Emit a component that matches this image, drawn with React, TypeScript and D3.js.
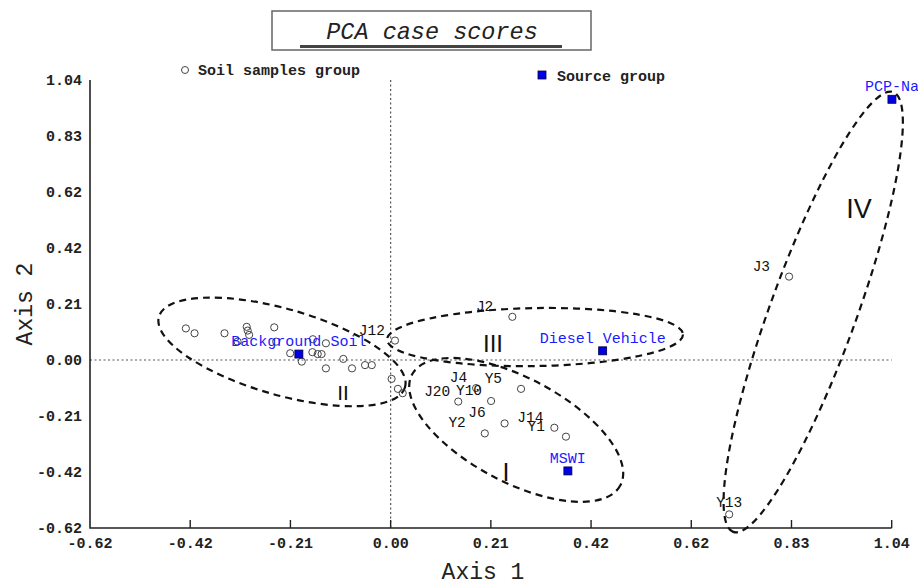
import * as d3 from 'd3';
import React, { useRef, useEffect } from 'react';

// unlabeled soil sample scores (Axis 1, Axis 2)
const soilX = [-0.424, -0.406, -0.344, -0.298, -0.296, -0.293, -0.241, -0.317, -0.237, -0.161, -0.208, -0.184, -0.162, -0.151, -0.143, -0.134, -0.098, -0.134, -0.080, -0.053, -0.039, 0.002, 0.015, 0.025]
const soilY = [0.117, 0.099, 0.099, 0.123, 0.109, 0.093, 0.121, 0.068, 0.068, 0.077, 0.025, -0.006, 0.029, 0.022, 0.022, 0.062, 0.004, -0.031, -0.031, -0.019, -0.019, -0.070, -0.107, -0.123]

// labeled soil samples
const sampleNames = ['J12', 'J2', 'J4', 'J20', 'Y10', 'Y5', 'J6', 'Y2', 'J14', 'Y1', 'J3', 'Y13']
const sampleX = [0.009, 0.252, 0.177, 0.140, 0.208, 0.270, 0.236, 0.195, 0.339, 0.363, 0.825, 0.701]
const sampleY = [0.072, 0.160, -0.104, -0.154, -0.152, -0.107, -0.235, -0.272, -0.251, -0.284, 0.309, -0.572]

// source group
const sourceNames = ['Background Soil', 'Diesel Vehicle', 'MSWI', 'PCP-Na']
const sourceX = [-0.190, 0.439, 0.367, 1.038]
const sourceY = [0.022, 0.034, -0.411, 0.966]

// group ellipses (centre in scores)
const groupNames = ['II', 'III', 'I', 'IV']
const groupCx = [-0.225, 0.299, 0.260, 0.875]
const groupCy = [0.030, 0.085, -0.259, 0.178]

const tickLabels = ['-0.62', '-0.42', '-0.21', '0.00', '0.21', '0.42', '0.62', '0.83', '1.04']
const tickValues = tickLabels.map((_, i) => -0.6225 + i * 0.2075)

// drawing styles
const ellipseShape = { II: [128, 43, 16], III: [148, 29, -1], I: [118, 52, 28], IV: [234, 43, 110] }
const romanPos = { II: [343, 400, 21], III: [493, 352, 24], I: [506, 481, 25], IV: [859, 218, 27] }
const labelOff = {
    J12: [-10, -6], J2: [-19, -6], J4: [-9, -6], J20: [-8, -6], Y10: [-9, -6], Y5: [-19, -6],
    J6: [-19, -6], Y2: [-19, -6], J14: [-11, -6], Y1: [-21, -6], J3: [-19, -6], Y13: [0, -7]
}

const MONO = "'Liberation Mono', 'DejaVu Sans Mono', monospace"

export default function App() {
    const ref = useRef(null)

    useEffect(() => {
        d3.select(ref.current).selectAll('svg').remove()

        const svg = d3.select(ref.current)
            .append('svg')
            .attr('width', 918)
            .attr('height', 585)
            .style('background', '#fff')

        const x = d3.scaleLinear().domain([-0.6225, 1.0375]).range([90, 891.7])
        const y = d3.scaleLinear().domain([-0.6225, 1.0375]).range([528, 80])

        // zero lines
        svg.append('line')
            .attr('x1', x(-0.6225)).attr('x2', x(1.0375))
            .attr('y1', y(0)).attr('y2', y(0))
            .attr('stroke', '#555').attr('stroke-width', 1.2)
            .attr('stroke-dasharray', '2,2.5')
        svg.append('line')
            .attr('x1', x(0)).attr('x2', x(0))
            .attr('y1', y(1.0375)).attr('y2', y(-0.6225))
            .attr('stroke', '#555').attr('stroke-width', 1.2)
            .attr('stroke-dasharray', '2,2.5')

        // axes
        svg.append('path')
            .attr('d', `M${x(-0.6225)},${y(1.0375)}V${y(-0.6225)}H${x(1.0375)}`)
            .attr('fill', 'none').attr('stroke', '#222').attr('stroke-width', 1.6)

        svg.selectAll('.xtick')
            .data(tickValues.slice(1))
            .enter().append('line')
            .attr('x1', d => x(d)).attr('x2', d => x(d))
            .attr('y1', y(-0.6225)).attr('y2', y(-0.6225) - 8)
            .attr('stroke', '#222').attr('stroke-width', 1.4)

        svg.selectAll('.xlab')
            .data(tickValues)
            .enter().append('text')
            .attr('x', d => x(d))
            .attr('y', y(-0.6225) + 20)
            .attr('text-anchor', 'middle')
            .style('font-family', MONO).style('font-size', '15px').style('font-weight', 'bold')
            .attr('fill', '#222')
            .text((d, i) => tickLabels[i])

        svg.selectAll('.ylab')
            .data(tickValues)
            .enter().append('text')
            .attr('x', 82)
            .attr('y', d => y(d) + 5)
            .attr('text-anchor', 'end')
            .style('font-family', MONO).style('font-size', '15px').style('font-weight', 'bold')
            .attr('fill', '#222')
            .text((d, i) => tickLabels[i])

        svg.append('text')
            .attr('x', 483).attr('y', 579)
            .attr('text-anchor', 'middle')
            .style('font-family', MONO).style('font-size', '23px')
            .attr('fill', '#222')
            .text('Axis 1')
        svg.append('text')
            .attr('transform', 'translate(32,304) rotate(-90)')
            .attr('text-anchor', 'middle')
            .style('font-family', MONO).style('font-size', '23px')
            .attr('fill', '#222')
            .text('Axis 2')

        // title box
        svg.append('rect')
            .attr('x', 272).attr('y', 11).attr('width', 319).attr('height', 39)
            .attr('fill', '#fff').attr('stroke', '#666').attr('stroke-width', 1.5)
        svg.append('text')
            .attr('x', 432).attr('y', 39)
            .attr('text-anchor', 'middle')
            .style('font-family', MONO).style('font-size', '23.5px').style('font-style', 'italic')
            .attr('fill', '#222')
            .text('PCA case scores')
        svg.append('line')
            .attr('x1', 300).attr('x2', 562).attr('y1', 46.5).attr('y2', 46.5)
            .attr('stroke', '#444').attr('stroke-width', 3)

        // legend
        svg.append('circle')
            .attr('cx', 185).attr('cy', 70).attr('r', 3.5)
            .attr('fill', 'none').attr('stroke', '#444').attr('stroke-width', 1)
        svg.append('text')
            .attr('x', 198).attr('y', 75)
            .style('font-family', MONO).style('font-size', '15px').style('font-weight', 'bold')
            .attr('fill', '#222')
            .text('Soil samples group')
        svg.append('rect')
            .attr('x', 538).attr('y', 71).attr('width', 8).attr('height', 8)
            .attr('fill', '#0000e6').attr('stroke', '#000044').attr('stroke-width', 0.8)
        svg.append('text')
            .attr('x', 557).attr('y', 81)
            .style('font-family', MONO).style('font-size', '15px').style('font-weight', 'bold')
            .attr('fill', '#222')
            .text('Source group')

        // group ellipses
        groupNames.forEach((g, i) => {
            const [rx, ry, ang] = ellipseShape[g]
            svg.append('ellipse')
                .attr('cx', 0).attr('cy', 0).attr('rx', rx).attr('ry', ry)
                .attr('transform', `translate(${x(groupCx[i])},${y(groupCy[i])}) rotate(${ang})`)
                .attr('fill', 'none').attr('stroke', '#111').attr('stroke-width', 2.2)
                .attr('stroke-dasharray', '7,5')
            const [px, py, fs] = romanPos[g]
            svg.append('text')
                .attr('x', px).attr('y', py)
                .attr('text-anchor', 'middle')
                .style('font-family', "'Liberation Sans', Arial, sans-serif").style('font-size', fs + 'px')
                .attr('fill', '#111')
                .text(g)
        })

        // soil samples
        svg.selectAll('.soil')
            .data(soilX)
            .enter().append('circle')
            .attr('cx', d => x(d))
            .attr('cy', (d, i) => y(soilY[i]))
            .attr('r', 3.6)
            .attr('fill', 'none').attr('stroke', '#444').attr('stroke-width', 1)

        svg.selectAll('.sample')
            .data(sampleX)
            .enter().append('circle')
            .attr('cx', d => x(d))
            .attr('cy', (d, i) => y(sampleY[i]))
            .attr('r', 3.6)
            .attr('fill', 'none').attr('stroke', '#444').attr('stroke-width', 1)

        svg.selectAll('.sampleLab')
            .data(sampleNames)
            .enter().append('text')
            .attr('x', (d, i) => x(sampleX[i]) + labelOff[d][0])
            .attr('y', (d, i) => y(sampleY[i]) + labelOff[d][1])
            .attr('text-anchor', d => d === 'Y13' ? 'middle' : 'end')
            .style('font-family', MONO).style('font-size', '14.5px')
            .attr('fill', '#111')
            .text(d => d)

        // sources
        svg.selectAll('.source')
            .data(sourceX)
            .enter().append('rect')
            .attr('x', d => x(d) - 4)
            .attr('y', (d, i) => y(sourceY[i]) - 4)
            .attr('width', 8).attr('height', 8)
            .attr('fill', '#0000e6').attr('stroke', '#000044').attr('stroke-width', 0.8)

        svg.selectAll('.sourceLab')
            .data(sourceNames)
            .enter().append('text')
            .attr('x', (d, i) => x(sourceX[i]))
            .attr('y', (d, i) => y(sourceY[i]) - 8)
            .attr('text-anchor', 'middle')
            .style('font-family', MONO).style('font-size', '15px')
            .attr('fill', '#1a1aff')
            .text(d => d)
    }, [])

    return (
        <div ref={ref} style={{ position: 'absolute', left: 0, top: 0 }}>
        </div>
    )
}
